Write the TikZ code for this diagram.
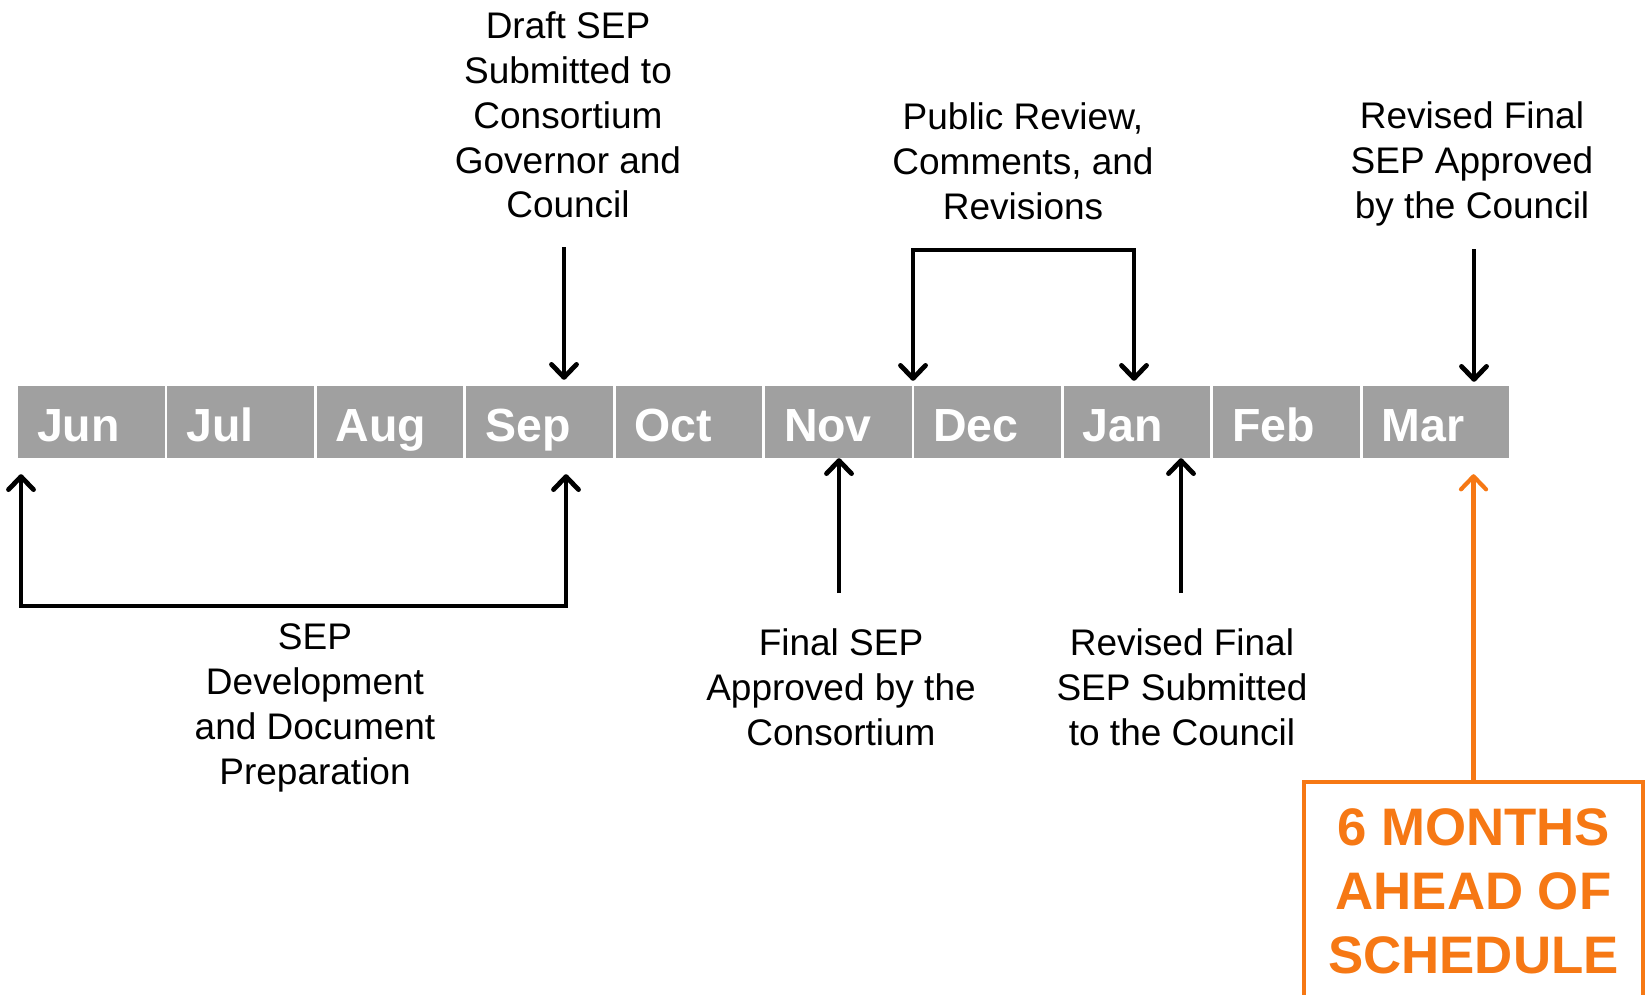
\documentclass[tikz,border=0pt]{standalone}
\usepackage{fontspec}
\setmainfont{Liberation Sans}
\usetikzlibrary{arrows.meta}
\definecolor{barGray}{RGB}{160,160,160}
\definecolor{aheadOrange}{RGB}{246,120,20}
\begin{document}
\begin{tikzpicture}[x=1pt,y=-1pt,
    >={Straight Barb[length=13pt,width=25pt,round]},
    month/.style={fill=barGray,text=white,font=\fontsize{46.5}{50}\selectfont\bfseries,
      minimum width=146.5pt,minimum height=72pt,inner xsep=19pt,inner ysep=0pt,
      text width=108.5pt,align=left,text height=41pt,text depth=2.7pt},
    note/.style={align=center,font=\fontsize{37}{44.8}\selectfont},
    arr/.style={line width=4.8pt,->}]
  \clip (0,0) rectangle (1646,994);
  \fill[white] (0,0) rectangle (1646,994);
  % the months
  \foreach \m [count=\i from 0] in {Jun,Jul,Aug,Sep,Oct,Nov,Dec,Jan,Feb,Mar}
    \node[month] (\m) at (91.25+149.4*\i,422) {\m};
  % texts above
  \node[note] (draft) at (568,115) {Draft SEP\\Submitted to\\Consortium\\Governor and\\Council};
  \node[note] (review) at (1023,161) {Public Review,\\Comments, and\\Revisions};
  \node[note] (revApproved) at (1472,164) {Revised Final\\SEP Approved\\by the Council};
  % texts below
  \node[note] (develop) at (315,708) {SEP\\Development\\and Document\\Preparation};
  \node[note] (final) at (841,687) {Final SEP\\Approved by the\\Consortium};
  \node[note] (revSubmitted) at (1182,687) {Revised Final\\SEP Submitted\\to the Council};
  \node[draw=aheadOrange,line width=4.2pt,text=aheadOrange,align=center,
    font=\fontsize{52.8}{64}\selectfont\bfseries,minimum width=339pt,minimum height=218pt]
    (ahead) at (1473.5,891) {6 MONTHS\\AHEAD OF\\SCHEDULE};
  % arrow ends
  \coordinate (draftFoot) at (564,247);
  \coordinate (revTop) at (1474,249);
  \coordinate (novFoot) at (839,593);
  \coordinate (janFoot) at (1181,593);
  \coordinate (reviewL) at (913,250);
  \coordinate (reviewR) at (1134,250);
  \coordinate (devL) at (21,606);
  \coordinate (devR) at (566,606);
  \draw[arr,shorten >=6pt] (draftFoot) -- (draftFoot |- Sep.north);
  \draw[arr,shorten >=4pt] (revTop) -- (revTop |- Mar.north);
  \draw[arr] (novFoot) -- (novFoot |- Nov.south);
  \draw[arr] (janFoot) -- (janFoot |- Jan.south);
  \draw[line width=4.8pt,<->,shorten <=5pt,shorten >=5pt]
    (reviewL |- Dec.north) -- (reviewL) -- (reviewR) -- (reviewR |- Jan.north);
  \draw[line width=4.8pt,<->,shorten <=16pt,shorten >=16pt]
    (devL |- Jun.south) -- (devL) -- (devR) -- (devR |- Sep.south);
  \draw[arr,aheadOrange,line width=4.2pt,shorten >=16pt] (ahead.north) -- (ahead.north |- Mar.south);
\end{tikzpicture}
\end{document}
